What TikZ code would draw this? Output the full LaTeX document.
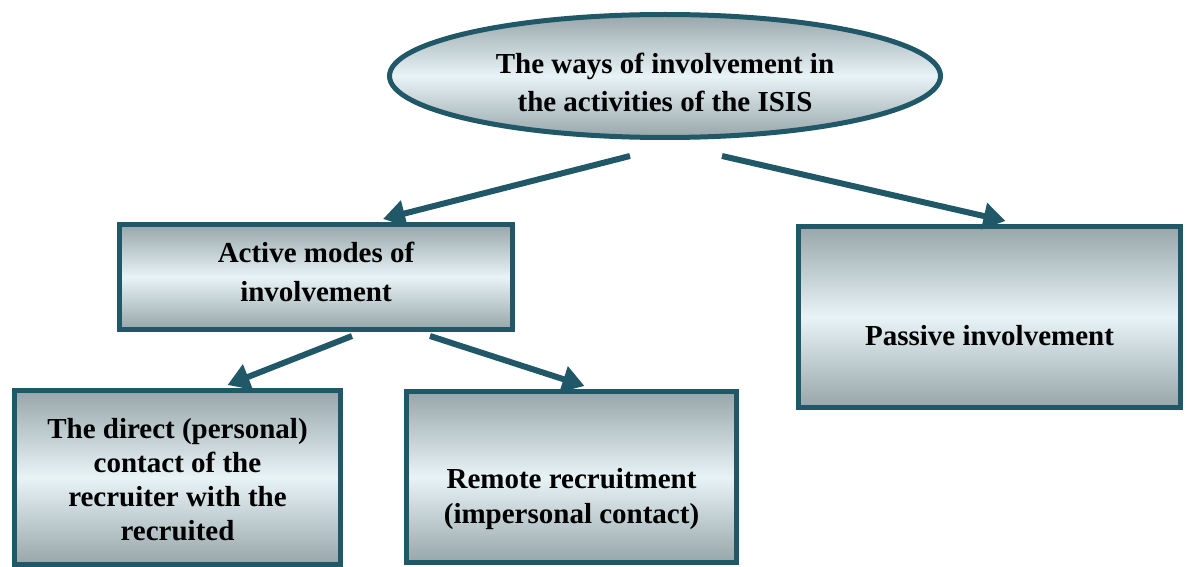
\documentclass[tikz,border=0pt]{standalone}
\usepackage{fontspec}
\setmainfont{Liberation Serif}
\usetikzlibrary{shapes.geometric,arrows.meta,calc}
\definecolor{bord}{HTML}{215868}
\definecolor{shdark}{HTML}{97A6AA}
\definecolor{shlight}{HTML}{E8F3F6}
\begin{document}
\begin{tikzpicture}[x=1pt,y=-1pt,
  box/.style={draw=bord, line width=5pt, top color=shdark, bottom color=shdark, middle color=shlight,
    inner sep=0pt},
  txt/.style={inner sep=0pt, align=center, font=\fontsize{29}{#1}\selectfont\bfseries},
  txt/.default=34,
  conn/.style={draw=bord, line width=6pt, -{Triangle[length=22pt,width=26pt]}}]
\useasboundingbox (0,0) rectangle (1187,567);
\node[box, ellipse, minimum width=551pt, minimum height=123pt] (top) at (665,76) {};
\node[box, minimum width=393pt, minimum height=105pt] (active) at (316,277) {};
\node[box, minimum width=382pt, minimum height=181pt] (passive) at (989.5,317) {};
\node[box, minimum width=326pt, minimum height=174pt] (direct) at (177.5,477.5) {};
\node[box, minimum width=330pt, minimum height=171pt] (remote) at (571.5,477) {};
\node[txt=38] (topt) at ($(top)+(0,6)$) {The ways of involvement in\\ the activities of the ISIS};
\node[txt=39] (activet) at ($(active)+(0,-5.5)$) {Active modes of\\ involvement};
\node[txt] (passivet) at ($(passive)+(0,19)$) {Passive involvement};
\node[txt=34] (directt) at ($(direct)+(0,2)$) {The direct (personal)\\ contact of the\\ recruiter with the\\ recruited};
\node[txt=35] (remotet) at ($(remote)+(0,22)$) {Remote recruitment\\ (impersonal contact)};
\draw[conn] ($(top.south)+(-35,16)$) -- ($(active.north)+(67,-3)$);
\draw[conn] ($(top.south)+(57,16)$) -- ($(passive.north)+(16,-3)$);
\draw[conn] ($(active.south)+(36,4)$) -- ($(direct.north)+(50,-3)$);
\draw[conn] ($(active.south)+(114,4)$) -- ($(remote.north)+(13,-3)$);
\end{tikzpicture}
\end{document}
